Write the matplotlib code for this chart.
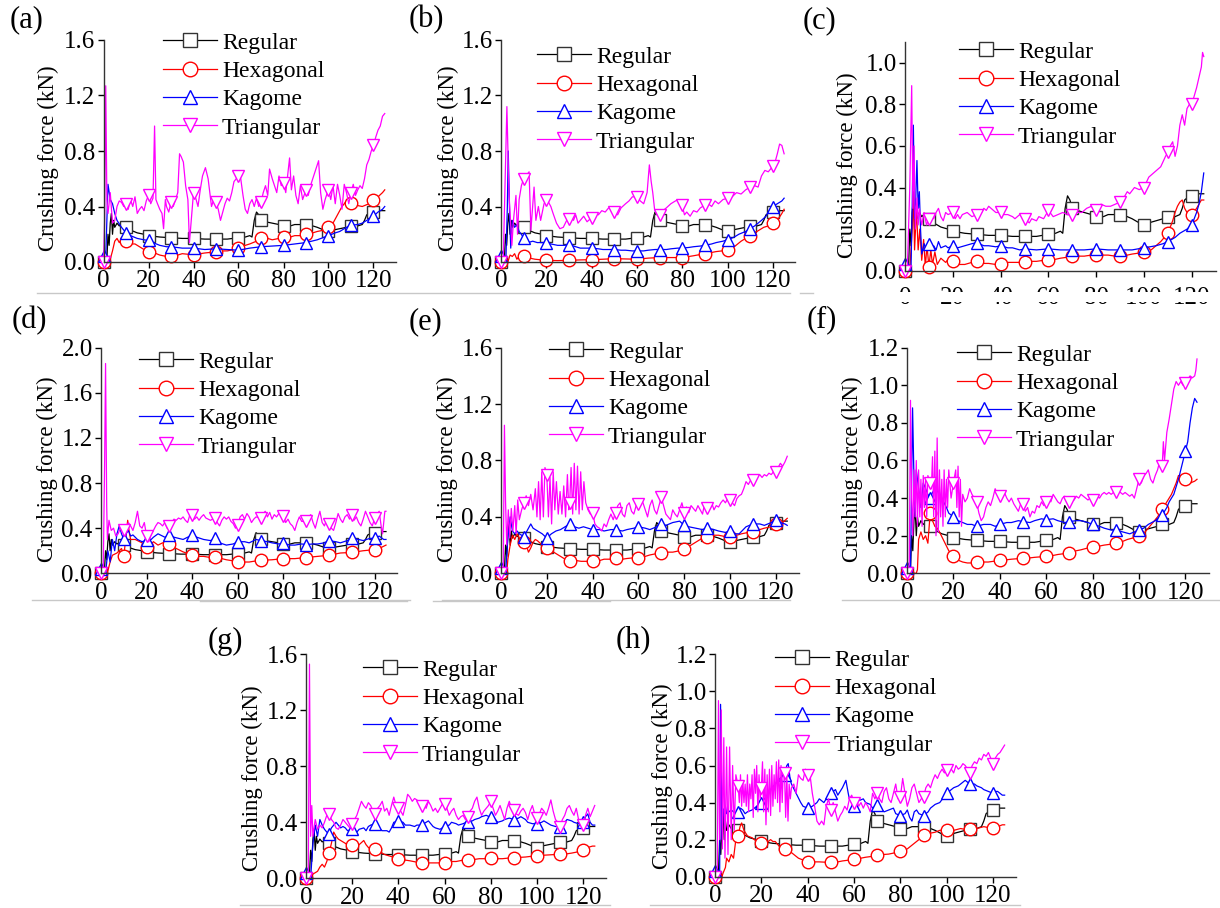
import numpy as np
import matplotlib.pyplot as plt
from matplotlib.lines import Line2D
from matplotlib.patches import Rectangle
from matplotlib.ticker import FormatStrFormatter

plt.rcParams['font.family'] = ['Liberation Serif', 'DejaVu Serif']

# series names / styles
names = ['Regular', 'Hexagonal', 'Kagome', 'Triangular']
colors = ['black', 'red', 'blue', 'magenta']
markers = ['s', 'o', '^', 'v']

# Regular curve is the same reference in every panel: (displacement, force)
regular = [(0, 0.0), (1, 0.0), (1.5, 0.02), (2, 0.2), (2.5, 0.12), (3, 0.28), (3.5, 0.35), (4, 0.2),
           (4.5, 0.3), (5, 0.25), (6, 0.28), (7, 0.26), (8, 0.27), (9, 0.26), (10, 0.25), (12, 0.23),
           (15, 0.21), (18, 0.2), (20, 0.19), (25, 0.18), (30, 0.175), (35, 0.17), (40, 0.17),
           (45, 0.165), (50, 0.165), (55, 0.165), (60, 0.175), (63, 0.18), (65, 0.19), (66, 0.18),
           (67, 0.3), (68, 0.36), (69, 0.34), (70, 0.30), (72, 0.29), (75, 0.28), (78, 0.27),
           (80, 0.26), (83, 0.26), (85, 0.27), (88, 0.27), (90, 0.27), (93, 0.26), (95, 0.25),
           (98, 0.23), (100, 0.22), (102, 0.23), (105, 0.24), (108, 0.25), (110, 0.26), (113, 0.26),
           (115, 0.27), (116, 0.3), (117, 0.34), (118, 0.35), (120, 0.36), (122, 0.37), (124, 0.37),
           (125, 0.37)]

# (a)
a_hex = [(0, 0), (2, 0), (3, 0.02), (4, 0.08), (5, 0.15), (6, 0.17), (7, 0.14), (8, 0.16), (9, 0.14),
         (10, 0.15), (12, 0.13), (14, 0.13), (16, 0.11), (18, 0.09), (20, 0.07), (22, 0.07), (25, 0.05),
         (28, 0.04), (30, 0.04), (33, 0.05), (35, 0.06), (38, 0.055), (40, 0.05), (43, 0.06), (45, 0.065),
         (48, 0.07), (50, 0.075), (53, 0.08), (55, 0.08), (58, 0.09), (60, 0.1), (63, 0.12), (65, 0.13),
         (68, 0.15), (70, 0.175), (73, 0.17), (75, 0.16), (78, 0.17), (80, 0.18), (83, 0.18), (85, 0.19),
         (88, 0.19), (90, 0.2), (93, 0.21), (95, 0.22), (98, 0.23), (100, 0.25), (102, 0.28), (104, 0.34),
         (106, 0.4), (108, 0.44), (110, 0.425), (112, 0.41), (115, 0.4), (118, 0.42), (120, 0.445),
         (122, 0.47), (124, 0.5), (125, 0.52)]
a_kag = [(0, 0.04), (1, 0.04), (1.5, 0.3), (2, 0.56), (3, 0.45), (4, 0.42), (5, 0.35), (6, 0.3), (8, 0.25),
         (10, 0.21), (12, 0.19), (15, 0.17), (18, 0.16), (20, 0.155), (22, 0.14), (25, 0.12), (28, 0.11),
         (30, 0.11), (35, 0.1), (40, 0.1), (45, 0.09), (50, 0.095), (55, 0.09), (60, 0.085), (65, 0.1),
         (70, 0.11), (75, 0.115), (80, 0.12), (85, 0.13), (90, 0.14), (95, 0.16), (100, 0.19), (103, 0.21),
         (105, 0.22), (108, 0.25), (110, 0.265), (113, 0.27), (115, 0.28), (118, 0.31), (120, 0.33),
         (122, 0.36), (124, 0.38), (125, 0.4)]
a_tri = [(0, 0), (0.5, 0.3), (1, 1.27), (1.5, 0.45), (2, 0.35), (3, 0.5), (4, 0.28), (5, 0.3), (6, 0.4),
         (7, 0.44), (8, 0.43), (9, 0.4), (10, 0.42), (11, 0.38), (12, 0.45), (13, 0.4), (14, 0.47),
         (15, 0.35), (16, 0.38), (17, 0.4), (18, 0.37), (19, 0.44), (20, 0.48), (21, 0.42), (22, 0.46),
         (22.7, 0.98), (23.3, 0.45), (24, 0.42), (25, 0.38), (26, 0.35), (26.7, 0.24), (27.5, 0.45),
         (28, 0.4), (29, 0.36), (30, 0.43), (31, 0.4), (32, 0.45), (33, 0.5), (33.8, 0.78), (34.5, 0.76),
         (35.5, 0.72), (36.5, 0.55), (37.5, 0.45), (38.2, 0.14), (39, 0.3), (40, 0.5), (41, 0.46),
         (42, 0.4), (43, 0.52), (44, 0.62), (45.3, 0.68), (46.5, 0.6), (48, 0.4), (49, 0.45), (50, 0.43),
         (51, 0.38), (52, 0.3), (53, 0.36), (54, 0.42), (55, 0.46), (56, 0.44), (57, 0.5), (58, 0.58),
         (59, 0.6), (60, 0.62), (61, 0.6), (62, 0.48), (63, 0.38), (64, 0.35), (65, 0.42), (66, 0.45),
         (67, 0.4), (68, 0.46), (69, 0.4), (70, 0.43), (71, 0.5), (72, 0.55), (73, 0.48), (73.8, 0.67),
         (75, 0.6), (76, 0.55), (77, 0.5), (78, 0.62), (79, 0.55), (80, 0.57), (81, 0.5), (82.7, 0.75),
         (83.5, 0.52), (84.5, 0.62), (85.5, 0.48), (86.5, 0.42), (87.5, 0.55), (88.5, 0.45), (90, 0.52),
         (91, 0.48), (92, 0.55), (93, 0.6), (94, 0.65), (95.6, 0.73), (96.5, 0.5), (97.5, 0.38),
         (98.5, 0.45), (99.5, 0.5), (100, 0.52), (101, 0.45), (102, 0.55), (103, 0.42), (104, 0.56),
         (105, 0.48), (106, 0.38), (107, 0.56), (108, 0.5), (109, 0.42), (110, 0.5), (111, 0.56),
         (112, 0.48), (113, 0.52), (114, 0.55), (115, 0.53), (116, 0.6), (117, 0.7), (118, 0.74),
         (119, 0.8), (120, 0.84), (121, 0.9), (122, 0.95), (123, 0.98), (124, 1.05), (125, 1.07)]

# (b)
b_hex = [(0, 0), (2, 0), (3, 0.0), (4, 0.05), (5, 0.04), (6, 0.06), (7, 0.02), (8, 0.04), (9, 0.05),
         (10, 0.04), (12, 0.03), (15, 0.02), (18, 0.015), (20, 0.012), (25, 0.01), (30, 0.012), (35, 0.015),
         (40, 0.017), (45, 0.02), (50, 0.024), (55, 0.022), (60, 0.02), (65, 0.028), (70, 0.032),
         (75, 0.032), (80, 0.032), (85, 0.045), (90, 0.06), (95, 0.075), (100, 0.085), (103, 0.11),
         (106, 0.15), (110, 0.19), (113, 0.22), (116, 0.25), (118, 0.26), (120, 0.28), (122, 0.3),
         (124, 0.35), (125, 0.38)]
b_kag = [(0, 0.04), (1, 0.04), (2.2, 0.04), (2.8, 0.4), (3.2, 0.8), (3.8, 0.35), (4.3, 0.1), (5, 0.3),
         (6, 0.25), (7, 0.27), (8, 0.22), (9, 0.2), (10, 0.17), (11, 0.15), (12, 0.14), (14, 0.15),
         (16, 0.14), (18, 0.14), (20, 0.14), (22, 0.13), (25, 0.12), (28, 0.12), (30, 0.125), (33, 0.11),
         (35, 0.1), (38, 0.1), (40, 0.1), (43, 0.095), (45, 0.09), (48, 0.09), (50, 0.09), (53, 0.085),
         (55, 0.085), (58, 0.08), (60, 0.08), (63, 0.08), (65, 0.085), (68, 0.09), (70, 0.09), (73, 0.09),
         (75, 0.095), (78, 0.1), (80, 0.1), (83, 0.105), (85, 0.11), (88, 0.115), (90, 0.12), (93, 0.13),
         (95, 0.14), (98, 0.15), (100, 0.16), (103, 0.18), (105, 0.2), (108, 0.22), (110, 0.24),
         (112, 0.26), (115, 0.3), (117, 0.33), (118, 0.36), (120, 0.4), (121, 0.41), (122, 0.42),
         (124, 0.44), (125, 0.46)]
b_tri = [(0, 0), (1, 0.02), (2.6, 1.12), (3.5, 0.5), (4.8, 0.12), (5.5, 0.3), (6.6, 0.48), (7.3, 0.2),
         (8, 0.45), (9, 0.55), (10, 0.6), (11, 0.62), (12.4, 0.65), (13.2, 0.23), (14.6, 0.54),
         (15.4, 0.3), (16.5, 0.4), (17.5, 0.3), (19, 0.42), (20, 0.45), (21, 0.43), (22, 0.4), (23, 0.35),
         (24.5, 0.28), (26, 0.24), (27.5, 0.25), (29, 0.3), (30, 0.31), (31, 0.33), (32, 0.3), (33, 0.34),
         (34, 0.28), (35, 0.3), (36.5, 0.33), (38, 0.29), (40, 0.32), (41.5, 0.35), (43, 0.34),
         (44.5, 0.37), (46, 0.36), (47.5, 0.39), (49, 0.38), (50, 0.36), (51.5, 0.34), (53, 0.39),
         (55, 0.42), (56.5, 0.44), (58, 0.47), (60, 0.47), (61.5, 0.44), (63, 0.42), (64.5, 0.5),
         (65.5, 0.7), (66.3, 0.58), (67, 0.5), (67.8, 0.38), (69, 0.34), (70, 0.34), (71.5, 0.37),
         (73, 0.39), (75, 0.42), (77, 0.44), (78.5, 0.45), (80, 0.41), (81, 0.34), (82, 0.36),
         (83.5, 0.33), (85, 0.37), (86.5, 0.36), (88, 0.39), (90, 0.41), (91.5, 0.42), (93, 0.4),
         (94.5, 0.44), (96, 0.42), (98, 0.45), (100, 0.46), (102, 0.47), (104, 0.5), (106, 0.49),
         (108, 0.52), (110, 0.54), (112, 0.55), (113.5, 0.54), (115, 0.62), (116.5, 0.66), (118, 0.65),
         (120, 0.69), (121, 0.72), (122, 0.78), (123, 0.85), (124, 0.84), (125, 0.78)]

# (c)
c_hex = [(0, 0), (2, 0), (3, 0.2), (3.5, 0.38), (4, 0.1), (4.8, 0.3), (5.5, 0.1), (6.2, 0.2), (7, 0.05),
         (7.8, 0.15), (8.5, 0.02), (9.2, 0.12), (10, 0.02), (10.8, 0.1), (11.5, 0.03), (12.5, 0.09),
         (13.5, 0.03), (15, 0.06), (17, 0.04), (18.5, 0.06), (20, 0.045), (22, 0.03), (25, 0.03),
         (28, 0.04), (30, 0.045), (33, 0.035), (35, 0.035), (38, 0.03), (40, 0.03), (43, 0.04), (45, 0.04),
         (48, 0.04), (50, 0.04), (53, 0.045), (55, 0.045), (58, 0.05), (60, 0.05), (63, 0.055), (65, 0.06),
         (68, 0.065), (70, 0.07), (73, 0.07), (75, 0.07), (78, 0.075), (80, 0.075), (83, 0.075),
         (85, 0.075), (88, 0.07), (90, 0.07), (93, 0.075), (95, 0.08), (98, 0.085), (100, 0.09),
         (103, 0.1), (105, 0.12), (107, 0.14), (110, 0.18), (112, 0.24), (113, 0.28), (114, 0.31),
         (115, 0.33), (116, 0.34), (117, 0.3), (118, 0.28), (120, 0.27), (122, 0.3), (123, 0.32),
         (124, 0.34), (125, 0.34)]
c_kag = [(0, 0.03), (1.5, 0.03), (2.5, 0.0), (3, 0.3), (3.5, 0.7), (4, 0.25), (4.5, 0.35), (5, 0.53),
         (5.5, 0.3), (6, 0.38), (6.5, 0.2), (7, 0.08), (8, 0.13), (9, 0.1), (10, 0.13), (11, 0.1),
         (12, 0.12), (13, 0.1), (14, 0.14), (15, 0.11), (17, 0.12), (18, 0.11), (20, 0.12), (22, 0.11),
         (25, 0.12), (28, 0.13), (30, 0.135), (33, 0.12), (35, 0.12), (38, 0.115), (40, 0.12), (43, 0.11),
         (45, 0.11), (48, 0.1), (50, 0.105), (55, 0.1), (60, 0.105), (65, 0.1), (70, 0.1), (75, 0.1),
         (80, 0.105), (85, 0.1), (90, 0.1), (95, 0.1), (100, 0.11), (105, 0.12), (108, 0.13), (110, 0.14),
         (113, 0.16), (115, 0.18), (118, 0.2), (120, 0.22), (122, 0.28), (123, 0.32), (124, 0.38),
         (125, 0.47)]
c_tri = [(0, 0), (1, 0.02), (2, 0.4), (2.8, 0.89), (3.3, 0.3), (3.8, 0.6), (4.3, 0.2), (5, 0.35),
         (5.5, 0.22), (6, 0.3), (7, 0.22), (8, 0.28), (9, 0.22), (10, 0.25), (11, 0.27), (12, 0.25),
         (13, 0.28), (14, 0.3), (15, 0.26), (16, 0.24), (17, 0.28), (18, 0.27), (20, 0.28), (21, 0.25),
         (22, 0.27), (23, 0.25), (24, 0.27), (26, 0.28), (28, 0.26), (30, 0.27), (31, 0.29), (32, 0.28),
         (33, 0.3), (34, 0.29), (35, 0.31), (36, 0.3), (38, 0.28), (40, 0.28), (41, 0.27), (43, 0.27),
         (45, 0.26), (46, 0.25), (48, 0.27), (50, 0.25), (52, 0.23), (53, 0.25), (55, 0.24), (56, 0.26),
         (58, 0.25), (60, 0.29), (62, 0.26), (64, 0.27), (66, 0.28), (68, 0.27), (70, 0.27), (72, 0.28),
         (74, 0.28), (76, 0.3), (78, 0.31), (80, 0.29), (82, 0.32), (84, 0.31), (86, 0.31), (88, 0.32),
         (90, 0.33), (92, 0.36), (93, 0.38), (94, 0.37), (96, 0.4), (98, 0.39), (100, 0.4), (102, 0.45),
         (104, 0.47), (105, 0.48), (107, 0.5), (109, 0.55), (110, 0.57), (111, 0.6), (112, 0.62),
         (113, 0.55), (114, 0.6), (115, 0.7), (116, 0.75), (117, 0.7), (118, 0.78), (119, 0.8), (120, 0.8),
         (121, 0.84), (122, 0.88), (123, 0.93), (124, 0.98), (124.5, 1.05), (125, 1.03)]

# (d)
d_hex = [(0, 0), (2, 0), (3, 0.02), (4, 0.1), (5, 0.16), (6, 0.17), (7, 0.18), (8, 0.2), (9, 0.22),
         (10, 0.15), (10.8, 0.3), (11.7, 0.47), (12.5, 0.35), (13, 0.3), (15, 0.3), (17, 0.28), (18, 0.27),
         (20, 0.23), (22, 0.26), (23, 0.28), (25, 0.25), (27, 0.27), (30, 0.26), (33, 0.22), (36, 0.19),
         (40, 0.16), (43, 0.15), (45, 0.15), (48, 0.14), (50, 0.145), (53, 0.13), (55, 0.12), (58, 0.11),
         (60, 0.1), (63, 0.1), (65, 0.1), (68, 0.11), (70, 0.115), (75, 0.12), (80, 0.13), (85, 0.13),
         (90, 0.14), (95, 0.15), (100, 0.16), (105, 0.18), (110, 0.185), (115, 0.2), (120, 0.21),
         (123, 0.23), (125, 0.25)]
d_kag = [(0, 0.04), (1, 0.04), (2, 0.0), (3, 0.2), (4, 0.1), (5, 0.3), (6, 0.2), (7, 0.35), (8, 0.42),
         (9, 0.35), (10, 0.3), (11, 0.35), (12, 0.38), (13, 0.33), (14, 0.34), (16, 0.3), (18, 0.28),
         (20, 0.295), (22, 0.3), (23, 0.32), (25, 0.35), (27, 0.33), (28, 0.32), (30, 0.34), (32, 0.32),
         (34, 0.31), (36, 0.3), (38, 0.32), (40, 0.34), (42, 0.32), (45, 0.3), (48, 0.29), (50, 0.31),
         (52, 0.27), (55, 0.25), (58, 0.26), (60, 0.28), (63, 0.28), (65, 0.27), (68, 0.3), (70, 0.29),
         (73, 0.28), (75, 0.27), (78, 0.26), (80, 0.265), (83, 0.25), (85, 0.25), (88, 0.26), (90, 0.255),
         (93, 0.26), (95, 0.26), (98, 0.27), (100, 0.29), (103, 0.28), (105, 0.27), (108, 0.29),
         (110, 0.31), (113, 0.3), (115, 0.29), (118, 0.31), (120, 0.31), (122, 0.33), (124, 0.3), (125, 0.3)]
d_tri = [(0, 0), (1, 0.05), (1.6, 1.0), (2, 1.86), (2.5, 0.6), (2.8, 0.3), (3.5, 0.47), (4.5, 0.38),
         (5.5, 0.4), (6.5, 0.33), (7.5, 0.35), (8.5, 0.4), (9, 0.38), (10, 0.38), (11, 0.4), (12, 0.45),
         (13, 0.42), (14, 0.38), (15, 0.45), (16, 0.55), (17, 0.42), (18, 0.4), (19, 0.45), (20, 0.33),
         (21, 0.28), (22, 0.35), (23, 0.38), (24, 0.42), (25, 0.45), (26, 0.44), (27, 0.42), (28, 0.45),
         (29, 0.4), (30, 0.42), (31, 0.45), (32, 0.48), (33, 0.47), (34, 0.49), (35, 0.48), (36, 0.5),
         (37, 0.47), (38, 0.45), (39, 0.52), (40, 0.52), (41, 0.48), (42, 0.5), (43, 0.47), (44, 0.5),
         (45, 0.52), (46, 0.49), (48, 0.47), (50, 0.49), (51, 0.45), (52, 0.42), (53, 0.47), (54, 0.5),
         (55, 0.48), (56, 0.5), (57, 0.46), (58, 0.44), (59, 0.4), (60, 0.43), (61, 0.5), (62, 0.52),
         (63, 0.48), (64, 0.53), (65, 0.5), (66, 0.45), (67, 0.48), (68, 0.5), (70, 0.49), (71, 0.52),
         (72, 0.55), (73, 0.5), (74, 0.54), (75, 0.48), (76, 0.52), (77, 0.5), (78, 0.53), (80, 0.51),
         (81, 0.45), (82, 0.48), (83, 0.44), (84, 0.42), (85, 0.38), (86, 0.45), (87, 0.5), (88, 0.46),
         (90, 0.46), (91, 0.5), (92, 0.52), (93, 0.45), (94, 0.4), (95, 0.48), (96, 0.55), (97, 0.45),
         (98, 0.42), (99, 0.48), (100, 0.44), (101, 0.4), (102, 0.38), (103, 0.45), (104, 0.53),
         (105, 0.48), (106, 0.45), (107, 0.5), (108, 0.52), (109, 0.48), (110, 0.52), (111, 0.47),
         (112, 0.5), (113, 0.45), (114, 0.42), (115, 0.48), (116, 0.55), (117, 0.5), (118, 0.45),
         (119, 0.42), (120, 0.49), (121, 0.52), (122, 0.55), (123, 0.4), (123.5, 0.35), (124.5, 0.55),
         (125, 0.55)]

# (e)
e_hex = [(0, 0), (2.5, 0), (3, 0.1), (4, 0.2), (5, 0.27), (6, 0.24), (7, 0.28), (8, 0.25), (10, 0.22),
         (11, 0.2), (12, 0.15), (13, 0.18), (14, 0.22), (15, 0.24), (16, 0.23), (18, 0.2), (20, 0.18),
         (23, 0.15), (26, 0.12), (28, 0.1), (30, 0.09), (33, 0.09), (35, 0.085), (38, 0.085), (40, 0.085),
         (43, 0.09), (45, 0.1), (48, 0.1), (50, 0.105), (53, 0.1), (55, 0.105), (58, 0.11), (60, 0.11),
         (63, 0.12), (65, 0.13), (68, 0.14), (70, 0.145), (73, 0.15), (75, 0.15), (78, 0.16), (80, 0.175),
         (83, 0.2), (85, 0.22), (88, 0.25), (90, 0.26), (93, 0.27), (95, 0.27), (98, 0.26), (100, 0.26),
         (103, 0.27), (105, 0.28), (108, 0.29), (110, 0.29), (113, 0.31), (115, 0.32), (118, 0.33),
         (120, 0.35), (123, 0.36), (125, 0.39)]
e_kag = [(0, 0.04), (1, 0.04), (2, 0.0), (3, 0.25), (4, 0.4), (5, 0.3), (6, 0.28), (7, 0.3), (8, 0.28),
         (10, 0.26), (11, 0.29), (12, 0.32), (13, 0.35), (14, 0.32), (16, 0.3), (18, 0.28), (20, 0.25),
         (22, 0.28), (24, 0.3), (26, 0.31), (28, 0.33), (30, 0.35), (32, 0.33), (34, 0.32), (36, 0.33),
         (38, 0.32), (40, 0.31), (43, 0.31), (45, 0.3), (48, 0.31), (50, 0.31), (53, 0.3), (55, 0.31),
         (58, 0.32), (60, 0.33), (63, 0.32), (65, 0.31), (68, 0.33), (70, 0.35), (72, 0.34), (75, 0.36),
         (78, 0.37), (80, 0.34), (82, 0.33), (85, 0.32), (88, 0.31), (90, 0.32), (93, 0.31), (95, 0.3),
         (98, 0.29), (100, 0.3), (102, 0.28), (104, 0.28), (107, 0.33), (110, 0.35), (113, 0.35),
         (115, 0.34), (118, 0.36), (120, 0.38), (122, 0.36), (124, 0.35), (125, 0.34)]
e_tri = [(0, 0), (1, 0.05), (1.5, 1.05), (2, 0.5), (2.5, 0.2), (3.2, 0.45), (3.8, 0.25), (4.5, 0.46),
         (5.2, 0.3), (6, 0.48), (6.6, 0.28), (7.3, 0.52), (8, 0.38), (9, 0.45), (10, 0.5), (11, 0.55),
         (12, 0.48), (13, 0.56), (14, 0.45), (15, 0.6), (15.7, 0.4), (16.4, 0.65), (17.1, 0.38),
         (17.8, 0.72), (18.5, 0.4), (19.2, 0.75), (20, 0.7), (20.7, 0.4), (21.4, 0.68), (22.1, 0.35),
         (22.8, 0.72), (23.5, 0.45), (24.2, 0.65), (25, 0.42), (25.8, 0.58), (26.6, 0.42), (27.4, 0.62),
         (28.2, 0.4), (29, 0.7), (29.6, 0.45), (30, 0.5), (30.6, 0.75), (31.3, 0.42), (32, 0.78),
         (32.7, 0.45), (33.4, 0.76), (34.1, 0.42), (34.8, 0.72), (35.5, 0.45), (36.2, 0.65), (37, 0.5),
         (38, 0.45), (39, 0.42), (40, 0.43), (41, 0.35), (42, 0.33), (43, 0.32), (44, 0.3), (45, 0.35),
         (46, 0.33), (47, 0.38), (48, 0.42), (49, 0.38), (50, 0.43), (51, 0.48), (52, 0.5), (53, 0.42),
         (54, 0.4), (55, 0.48), (56, 0.5), (57, 0.44), (58, 0.42), (59, 0.48), (60, 0.49), (61, 0.52),
         (62, 0.5), (63, 0.45), (64, 0.4), (65, 0.48), (66, 0.52), (67, 0.45), (68, 0.42), (69, 0.48),
         (70, 0.54), (71, 0.48), (72, 0.42), (73, 0.4), (74, 0.38), (75, 0.45), (76, 0.42), (77, 0.4),
         (78, 0.45), (79, 0.5), (80, 0.43), (81, 0.47), (82, 0.43), (83, 0.48), (84, 0.46), (85, 0.44),
         (86, 0.48), (87, 0.45), (88, 0.42), (89, 0.5), (90, 0.46), (91, 0.48), (92, 0.5), (93, 0.45),
         (94, 0.48), (95, 0.47), (96, 0.5), (97, 0.52), (98, 0.5), (99, 0.53), (100, 0.52), (101, 0.5),
         (102, 0.48), (103, 0.53), (104, 0.55), (105, 0.56), (106, 0.6), (107, 0.65), (108, 0.63),
         (109, 0.66), (110, 0.66), (111, 0.68), (112, 0.69), (113, 0.7), (114, 0.68), (115, 0.7),
         (116, 0.69), (117, 0.71), (118, 0.7), (119, 0.72), (120, 0.72), (121, 0.75), (122, 0.78),
         (123, 0.76), (124, 0.79), (125, 0.83)]

# (f)
f_hex = [(0, 0), (4, 0), (4.5, 0.02), (5, 0.18), (6, 0.22), (7, 0.18), (8, 0.2), (9, 0.16), (10, 0.32),
         (11, 0.28), (12, 0.25), (13, 0.24), (14, 0.22), (16, 0.17), (18, 0.12), (20, 0.09), (22, 0.07),
         (24, 0.06), (26, 0.055), (28, 0.055), (30, 0.058), (33, 0.06), (35, 0.06), (38, 0.065), (40, 0.07),
         (43, 0.072), (45, 0.075), (48, 0.078), (50, 0.08), (53, 0.082), (55, 0.085), (58, 0.088),
         (60, 0.09), (63, 0.095), (65, 0.1), (68, 0.105), (70, 0.11), (73, 0.12), (75, 0.125), (78, 0.135),
         (80, 0.14), (83, 0.145), (85, 0.15), (88, 0.155), (90, 0.16), (93, 0.17), (95, 0.18), (98, 0.19),
         (100, 0.2), (102, 0.21), (104, 0.24), (106, 0.27), (108, 0.3), (110, 0.34), (112, 0.38),
         (114, 0.42), (116, 0.48), (117, 0.52), (118, 0.52), (120, 0.5), (122, 0.48), (124, 0.49),
         (125, 0.5)]
f_kag = [(0, 0.03), (1, 0.03), (1.5, 0.0), (2, 0.5), (2.4, 0.88), (3, 0.5), (3.5, 0.3), (4, 0.55),
         (5, 0.45), (6, 0.35), (7, 0.48), (8, 0.45), (9, 0.42), (10, 0.4), (11, 0.43), (12, 0.45),
         (13, 0.44), (14, 0.42), (15, 0.4), (17, 0.35), (18, 0.32), (20, 0.3), (22, 0.28), (24, 0.27),
         (26, 0.26), (28, 0.26), (30, 0.25), (33, 0.26), (36, 0.26), (38, 0.25), (40, 0.26), (43, 0.27),
         (45, 0.27), (48, 0.28), (50, 0.275), (53, 0.27), (55, 0.28), (58, 0.29), (60, 0.285), (63, 0.29),
         (65, 0.28), (68, 0.27), (70, 0.275), (73, 0.28), (75, 0.28), (78, 0.27), (80, 0.26), (83, 0.25),
         (85, 0.24), (88, 0.23), (90, 0.23), (93, 0.22), (96, 0.21), (98, 0.22), (100, 0.23), (102, 0.24),
         (104, 0.26), (107, 0.28), (110, 0.31), (112, 0.35), (113, 0.38), (115, 0.42), (117, 0.5),
         (118, 0.55), (119, 0.6), (120, 0.65), (121, 0.7), (122, 0.8), (123, 0.88), (124, 0.93),
         (124.5, 0.92), (125, 0.91)]
f_tri = [(0, 0), (1, 0.05), (1.5, 0.92), (2, 0.4), (2.5, 0.2), (3, 0.55), (3.5, 0.3), (4, 0.6),
         (4.5, 0.25), (5, 0.55), (5.5, 0.3), (6, 0.5), (6.5, 0.25), (7, 0.52), (7.5, 0.35), (8, 0.5),
         (8.5, 0.3), (9, 0.52), (10, 0.48), (10.5, 0.45), (11, 0.62), (11.5, 0.3), (12, 0.65), (12.5, 0.2),
         (13, 0.72), (13.5, 0.22), (14, 0.55), (14.5, 0.3), (15, 0.5), (15.5, 0.25), (16, 0.55),
         (16.5, 0.3), (17, 0.5), (17.5, 0.35), (18, 0.55), (19, 0.4), (20, 0.48), (21, 0.55), (21.5, 0.35),
         (22, 0.57), (22.5, 0.3), (23, 0.5), (23.5, 0.25), (24, 0.42), (25, 0.38), (26, 0.4), (27, 0.45),
         (28, 0.42), (29, 0.4), (30, 0.38), (31, 0.32), (32, 0.28), (33, 0.3), (34, 0.35), (35, 0.38),
         (36, 0.36), (37, 0.4), (38, 0.45), (39, 0.42), (40, 0.41), (41, 0.4), (42, 0.43), (43, 0.4),
         (44, 0.38), (45, 0.4), (46, 0.37), (47, 0.35), (48, 0.33), (49, 0.37), (50, 0.37), (51, 0.33),
         (52, 0.35), (53, 0.3), (54, 0.33), (55, 0.32), (56, 0.36), (57, 0.35), (58, 0.38), (59, 0.36),
         (60, 0.38), (61, 0.4), (62, 0.38), (63, 0.42), (64, 0.4), (65, 0.38), (66, 0.37), (67, 0.4),
         (68, 0.41), (69, 0.38), (70, 0.38), (71, 0.4), (72, 0.39), (73, 0.41), (74, 0.4), (75, 0.42),
         (76, 0.41), (77, 0.4), (78, 0.39), (79, 0.4), (80, 0.39), (81, 0.4), (82, 0.41), (83, 0.4),
         (84, 0.42), (85, 0.43), (86, 0.42), (87, 0.43), (88, 0.42), (89, 0.43), (90, 0.43), (91, 0.44),
         (92, 0.43), (93, 0.42), (94, 0.43), (95, 0.42), (96, 0.41), (97, 0.42), (98, 0.4), (99, 0.45),
         (100, 0.5), (101, 0.48), (102, 0.52), (103, 0.53), (104, 0.55), (105, 0.5), (106, 0.48),
         (107, 0.52), (108, 0.55), (109, 0.6), (110, 0.57), (110.5, 0.7), (111, 0.6), (112, 0.75),
         (113, 0.82), (114, 0.9), (115, 0.98), (116, 1.02), (117, 1.0), (118, 1.02), (119, 1.0),
         (120, 1.01), (121, 1.03), (122, 1.05), (123, 1.04), (124, 1.05), (124.5, 1.08), (125, 1.14)]

# (g)
g_hex = [(0, 0), (2, 0), (3, 0.03), (4, 0.04), (5, 0.05), (6, 0.08), (7, 0.1), (8, 0.08), (9, 0.12),
         (10, 0.18), (11, 0.25), (12, 0.33), (13, 0.3), (14, 0.28), (15, 0.27), (17, 0.25), (18, 0.24),
         (20, 0.24), (22, 0.22), (23, 0.24), (25, 0.27), (26, 0.24), (27, 0.22), (28, 0.21), (30, 0.21),
         (32, 0.19), (34, 0.17), (36, 0.16), (38, 0.15), (40, 0.14), (43, 0.13), (45, 0.125), (48, 0.115),
         (50, 0.11), (53, 0.11), (55, 0.11), (58, 0.11), (60, 0.11), (63, 0.12), (65, 0.12), (68, 0.13),
         (70, 0.13), (73, 0.135), (75, 0.14), (78, 0.14), (80, 0.143), (83, 0.14), (85, 0.14), (88, 0.145),
         (90, 0.148), (93, 0.15), (95, 0.152), (98, 0.158), (100, 0.16), (103, 0.165), (105, 0.167),
         (108, 0.17), (110, 0.171), (113, 0.175), (115, 0.18), (118, 0.19), (120, 0.2), (122, 0.22),
         (124, 0.23), (125, 0.23)]
g_kag = [(0, 0.04), (1, 0.04), (2, 0.0), (3, 0.25), (4, 0.38), (5, 0.3), (6, 0.42), (7, 0.38), (8, 0.35),
         (9, 0.33), (10, 0.32), (11, 0.36), (12, 0.38), (13, 0.4), (14, 0.38), (15, 0.36), (16, 0.37),
         (17, 0.36), (18, 0.34), (20, 0.35), (22, 0.33), (23, 0.35), (25, 0.36), (26, 0.34), (27, 0.37),
         (28, 0.38), (30, 0.39), (31, 0.37), (32, 0.35), (33, 0.34), (35, 0.34), (36, 0.33), (37, 0.36),
         (38, 0.4), (40, 0.41), (42, 0.4), (43, 0.38), (45, 0.38), (47, 0.37), (48, 0.38), (50, 0.38),
         (52, 0.4), (53, 0.41), (55, 0.37), (56, 0.36), (58, 0.35), (60, 0.37), (62, 0.38), (63, 0.4),
         (65, 0.39), (66, 0.38), (68, 0.39), (70, 0.405), (72, 0.41), (73, 0.42), (75, 0.43), (76, 0.44),
         (78, 0.45), (80, 0.435), (82, 0.42), (83, 0.4), (85, 0.41), (86, 0.42), (88, 0.43), (90, 0.42),
         (92, 0.43), (93, 0.44), (95, 0.42), (96, 0.4), (98, 0.39), (100, 0.39), (102, 0.4), (103, 0.41),
         (105, 0.39), (106, 0.38), (108, 0.37), (110, 0.37), (112, 0.4), (113, 0.42), (115, 0.41),
         (116, 0.4), (118, 0.39), (120, 0.4), (121, 0.44), (122, 0.46), (123, 0.4), (124, 0.38), (125, 0.38)]
g_tri = [(0, 0), (1, 0.05), (1.5, 1.53), (2, 0.3), (2.5, 0.52), (3, 0.3), (4, 0.42), (5, 0.35), (6, 0.38),
         (7, 0.36), (8, 0.4), (9, 0.45), (10, 0.46), (11, 0.42), (12, 0.4), (13, 0.36), (14, 0.35),
         (15, 0.38), (16, 0.42), (17, 0.4), (18, 0.38), (19, 0.36), (20, 0.39), (21, 0.42), (22, 0.45),
         (23, 0.5), (24, 0.55), (25, 0.52), (26, 0.5), (27, 0.54), (28, 0.52), (29, 0.48), (30, 0.46),
         (31, 0.5), (32, 0.52), (33, 0.55), (34, 0.48), (35, 0.5), (36, 0.45), (37, 0.52), (38, 0.58),
         (39, 0.52), (40, 0.5), (41, 0.48), (42, 0.45), (43, 0.52), (44, 0.6), (45, 0.58), (46, 0.55),
         (47, 0.57), (48, 0.56), (49, 0.54), (50, 0.52), (51, 0.55), (52, 0.5), (53, 0.55), (54, 0.52),
         (55, 0.48), (56, 0.5), (57, 0.47), (58, 0.5), (59, 0.53), (60, 0.53), (61, 0.5), (62, 0.45),
         (63, 0.48), (64, 0.5), (65, 0.45), (66, 0.42), (67, 0.44), (68, 0.45), (69, 0.42), (70, 0.44),
         (71, 0.48), (72, 0.5), (73, 0.55), (74, 0.58), (75, 0.5), (76, 0.45), (77, 0.48), (78, 0.5),
         (79, 0.52), (80, 0.55), (81, 0.5), (82, 0.45), (83, 0.48), (84, 0.52), (85, 0.47), (86, 0.42),
         (87, 0.5), (88, 0.55), (89, 0.5), (90, 0.49), (91, 0.46), (92, 0.45), (93, 0.48), (94, 0.5),
         (95, 0.47), (96, 0.42), (97, 0.48), (98, 0.52), (99, 0.46), (100, 0.43), (101, 0.46), (102, 0.5),
         (103, 0.48), (104, 0.45), (105, 0.5), (106, 0.56), (107, 0.48), (108, 0.42), (109, 0.4),
         (110, 0.37), (111, 0.42), (112, 0.45), (113, 0.5), (114, 0.52), (115, 0.48), (116, 0.45),
         (117, 0.5), (118, 0.42), (119, 0.4), (120, 0.38), (121, 0.45), (122, 0.5), (123, 0.44),
         (124, 0.48), (125, 0.52)]

# (h)
h_hex = [(0, 0), (3, 0), (3.5, 0.02), (4.5, 0.05), (5, 0.1), (6, 0.08), (7, 0.12), (8, 0.1), (9, 0.2),
         (10, 0.22), (10.8, 0.27), (11.5, 0.29), (12.5, 0.25), (14, 0.22), (16, 0.21), (18, 0.19),
         (20, 0.18), (22, 0.18), (24, 0.2), (25, 0.19), (26, 0.19), (28, 0.16), (30, 0.15), (32, 0.14),
         (34, 0.12), (36, 0.1), (38, 0.09), (40, 0.08), (43, 0.08), (45, 0.08), (48, 0.078), (50, 0.077),
         (53, 0.08), (55, 0.085), (58, 0.09), (60, 0.094), (63, 0.1), (65, 0.105), (68, 0.11), (70, 0.117),
         (73, 0.12), (75, 0.122), (78, 0.13), (80, 0.14), (83, 0.15), (85, 0.17), (88, 0.2), (90, 0.225),
         (93, 0.235), (95, 0.24), (97, 0.25), (100, 0.252), (103, 0.25), (106, 0.26), (108, 0.255),
         (110, 0.26), (113, 0.26), (116, 0.27), (118, 0.265), (120, 0.264), (122, 0.27), (124, 0.28),
         (125, 0.28)]
h_kag = [(0, 0.03), (1, 0.03), (2, 0.0), (2.4, 0.93), (3, 0.2), (3.6, 0.36), (4.5, 0.38), (5, 0.34),
         (6, 0.35), (7, 0.36), (8, 0.35), (9, 0.34), (10, 0.35), (11, 0.37), (12, 0.36), (13, 0.34),
         (14, 0.35), (16, 0.36), (18, 0.38), (20, 0.4), (22, 0.43), (24, 0.47), (26, 0.5), (28, 0.53),
         (30, 0.55), (31, 0.6), (31.6, 0.61), (32.5, 0.52), (33, 0.5), (35, 0.45), (37, 0.4), (38, 0.38),
         (40, 0.37), (42, 0.38), (44, 0.4), (45, 0.42), (47, 0.4), (48, 0.42), (50, 0.45), (52, 0.47),
         (53, 0.44), (54, 0.46), (55, 0.48), (56.5, 0.52), (57.5, 0.45), (58, 0.42), (60, 0.38),
         (62, 0.41), (64, 0.42), (65, 0.4), (67, 0.39), (68, 0.37), (70, 0.387), (72, 0.36), (73, 0.35),
         (75, 0.36), (77, 0.37), (78, 0.34), (80, 0.33), (82, 0.34), (83, 0.36), (84, 0.32), (85, 0.3),
         (86, 0.35), (87, 0.36), (88, 0.34), (90, 0.33), (92, 0.35), (93, 0.37), (95, 0.39), (97, 0.4),
         (100, 0.45), (102, 0.47), (103, 0.48), (105, 0.49), (106, 0.5), (108, 0.52), (110, 0.5),
         (112, 0.5), (113, 0.49), (115, 0.48), (116, 0.47), (118, 0.46), (120, 0.45), (121, 0.46),
         (122, 0.46), (124, 0.44), (125, 0.44)]
h_tri = [(0, 0), (1, 0.05), (1.5, 0.95), (2, 0.2), (2.7, 0.9), (3.2, 0.15), (3.8, 0.75), (4.3, 0.1),
         (5, 0.7), (5.6, 0.12), (6.3, 0.7), (7, 0.2), (7.6, 0.6), (8.3, 0.25), (9, 0.55), (10, 0.49),
         (10.5, 0.4), (11, 0.55), (11.5, 0.38), (12, 0.52), (12.5, 0.4), (13, 0.5), (13.5, 0.38),
         (14, 0.55), (14.5, 0.35), (15, 0.5), (15.5, 0.42), (16, 0.55), (16.5, 0.32), (17, 0.58),
         (17.5, 0.45), (18, 0.6), (18.5, 0.35), (19, 0.55), (19.5, 0.42), (20, 0.48), (20.5, 0.62),
         (21, 0.35), (21.5, 0.58), (22, 0.28), (22.5, 0.55), (23, 0.35), (23.5, 0.58), (24, 0.33),
         (24.5, 0.6), (25, 0.38), (25.5, 0.55), (26, 0.42), (26.5, 0.62), (27, 0.4), (27.5, 0.63),
         (28, 0.35), (28.5, 0.6), (29, 0.4), (29.5, 0.58), (30, 0.56), (30.5, 0.32), (31, 0.55),
         (31.5, 0.3), (32, 0.5), (32.5, 0.42), (33, 0.48), (34, 0.5), (35, 0.45), (36, 0.55), (37, 0.53),
         (38, 0.52), (39, 0.58), (40, 0.55), (41, 0.55), (42, 0.45), (43, 0.38), (44, 0.3), (45, 0.28),
         (46, 0.3), (47, 0.28), (48, 0.38), (49, 0.42), (50, 0.36), (51, 0.4), (52, 0.35), (53, 0.3),
         (54, 0.33), (55, 0.35), (56, 0.38), (57, 0.36), (58, 0.42), (59, 0.44), (60, 0.4), (61, 0.42),
         (62, 0.38), (63, 0.4), (64, 0.37), (65, 0.4), (66, 0.38), (67, 0.35), (68, 0.45), (69, 0.42),
         (70, 0.45), (71, 0.42), (72, 0.4), (73, 0.46), (74, 0.48), (75, 0.42), (76, 0.4), (77, 0.45),
         (78, 0.5), (79, 0.42), (80, 0.43), (81, 0.53), (82, 0.45), (83, 0.38), (84, 0.42), (85, 0.48),
         (86, 0.5), (87, 0.45), (88, 0.4), (89, 0.42), (90, 0.43), (91, 0.48), (92, 0.5), (93, 0.48),
         (94, 0.52), (95, 0.55), (96, 0.53), (97, 0.56), (98, 0.58), (99, 0.56), (100, 0.575),
         (101, 0.57), (102, 0.58), (103, 0.56), (104, 0.6), (105, 0.58), (106, 0.59), (107, 0.61),
         (108, 0.6), (109, 0.58), (110, 0.56), (111, 0.6), (112, 0.62), (113, 0.61), (114, 0.64),
         (115, 0.63), (116, 0.66), (117, 0.65), (118, 0.67), (119, 0.64), (120, 0.61), (121, 0.64),
         (122, 0.66), (123, 0.67), (124, 0.69), (125, 0.71)]

# ---- layout (pixel positions on a 1220 x 908 canvas) ----
W, H = 1220, 908
fig = plt.figure(figsize=(W / 100, H / 100), dpi=100)


def fx(px):
    return px / W


def fy(py):
    return 1 - py / H


# tag, series, ymax, ystep, (x0, px per unit, top, bottom), legend (left, top), ylabel (x, y), tag (x, y), xpad
panels = [
    ('(a)', (a_hex, a_kag, a_tri), 1.6, 0.4, (103.5, 2.25, 40, 262), (163, 32), (48, 158), (27, 20), 2),
    ('(b)', (b_hex, b_kag, b_tri), 1.6, 0.4, (501, 2.265, 40, 262), (537, 46), (448, 158), (426, 20), 2),
    ('(c)', (c_hex, c_kag, c_tri), 1.1, 0.2, (905, 2.39, 42, 270.7), (959, 41), (847, 165), (820, 21), 8),
    ('(d)', (d_hex, d_kag, d_tri), 2.0, 0.4, (101, 2.28, 347.7, 573.3), (139, 351), (47, 469), (29, 321), 2),
    ('(e)', (e_hex, e_kag, e_tri), 1.6, 0.4, (501, 2.29, 347.7, 573.3), (549, 341), (447, 469), (425, 322), 2),
    ('(f)', (f_hex, f_kag, f_tri), 1.2, 0.2, (907, 2.32, 347.7, 573.3), (957, 344), (852, 469), (822, 320), 2),
    ('(g)', (g_hex, g_kag, g_tri), 1.6, 0.4, (306, 2.31, 654.3, 878.3), (363, 659), (252, 778), (225, 641), 2),
    ('(h)', (h_hex, h_kag, h_tri), 1.2, 0.2, (715, 2.317, 654.3, 876.7), (775, 649), (662, 776), (633, 640), 2),
]

handles = [Line2D([], [], color=c, lw=0.9, marker=m, ms=10.5, mfc='white',
                  mec='#333333' if c == 'black' else c, mew=1)
           for c, m in zip(colors, markers)]

for tag, series, ymax, ystep, box, leg, ylab, tagpos, xpad in panels:
    x0, sc, top, bot = box
    ax = fig.add_axes([fx(x0), fy(bot), 130 * sc / W, (bot - top) / H])
    for data, c, m in zip((regular,) + series, colors, markers):
        x, y = np.array(data).T
        every = [i for i, v in enumerate(x) if v % 10 == 0]
        ax.plot(x, y, color=c, lw=0.9, marker=m, ms=9, mfc='white',
                mec='#333333' if c == 'black' else c, mew=1, markevery=every, clip_on=False)
    ax.set_xlim(0, 130)
    ax.set_ylim(0, ymax)
    ax.set_xticks(np.arange(0, 121, 20))
    ax.set_yticks(np.arange(0, ymax + 1e-6, ystep))
    ax.yaxis.set_major_formatter(FormatStrFormatter('%.1f'))
    ax.tick_params(direction='out', length=4, width=1, labelsize=18, pad=2, colors='black')
    ax.tick_params(axis='x', pad=xpad)
    for s in ['top', 'right']:
        ax.spines[s].set_visible(False)
    for s in ['left', 'bottom']:
        ax.spines[s].set_linewidth(1)
        ax.spines[s].set_color('#333333')
    ax.legend(handles, names, loc='upper left', bbox_to_anchor=(fx(leg[0]), fy(leg[1])),
              bbox_transform=fig.transFigure, frameon=False, fontsize=17, borderpad=0,
              borderaxespad=0, handlelength=2.3, handletextpad=0.2, labelspacing=0.29)
    fig.text(fx(ylab[0]), fy(ylab[1]), 'Crushing force (kN)', rotation=90,
             ha='center', va='center', fontsize=16.5)
    fig.text(fx(tagpos[0]), fy(tagpos[1]), tag, ha='center', va='center', fontsize=22)

# panel (c) is cut off below its tick labels in the source figure
fig.add_artist(Rectangle((fx(835), fy(302)), fx(1220 - 835), 10 / H, transform=fig.transFigure,
                         facecolor='white', edgecolor='none', zorder=5))

# thin grey separator lines between the stitched panels
for x1, x2, yy in [(37, 790, 293), (800, 813, 293), (32, 410, 600), (442, 790, 600),
                   (842, 1220, 600), (200, 407, 601), (433, 610, 601), (240, 610, 905), (650, 1020, 905)]:
    fig.add_artist(Line2D([fx(x1), fx(x2)], [fy(yy), fy(yy)], color='#c8c8c8', lw=1,
                          transform=fig.transFigure, zorder=6))

fig.savefig('out.png', dpi=100)
